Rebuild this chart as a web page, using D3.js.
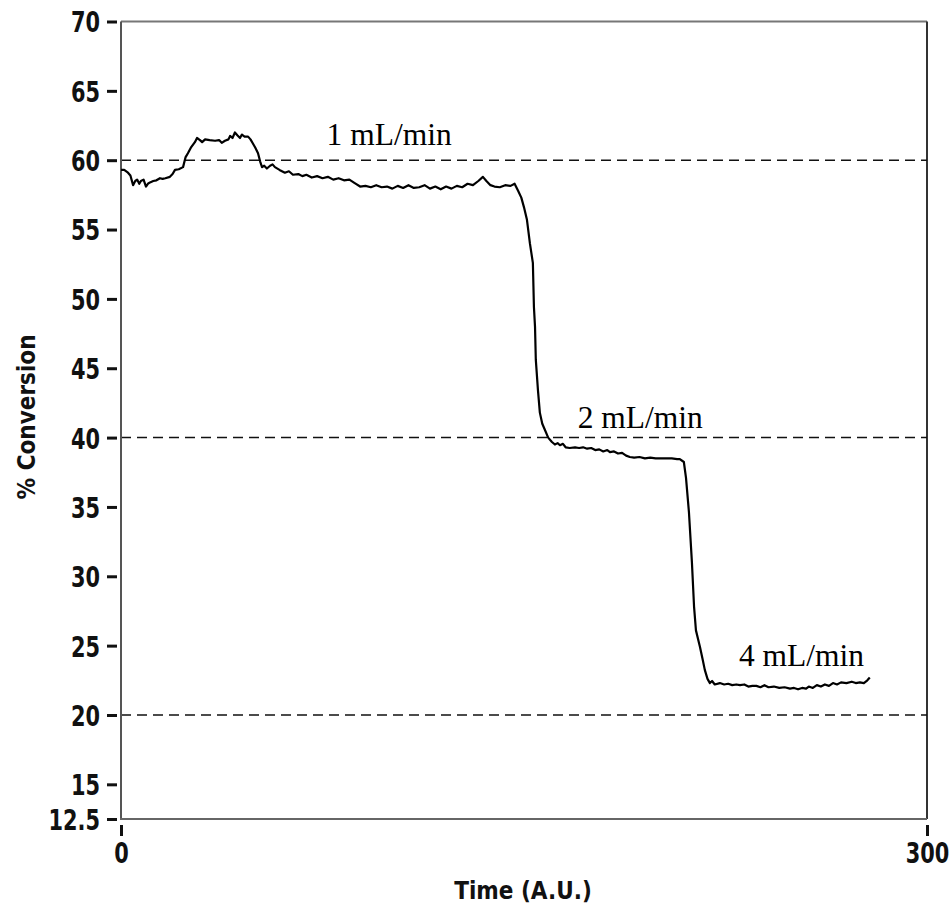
<!DOCTYPE html>
<html>
<head>
<meta charset="utf-8">
<script src="https://cdn.jsdelivr.net/npm/d3@7"></script>
<style>
  body { margin: 0; background: #fff; }
  svg { display: block; }
  .tick-label { font-family: "DejaVu Sans Condensed", "DejaVu Sans", sans-serif; font-weight: bold; }
</style>
</head>
<body>
<svg id="chart" width="950" height="911"></svg>
<script>
// ---- data ----
const timeValues = [
  0, 1.2, 2.6, 3.5, 4.5, 5.3, 6.0, 6.8, 7.4, 8.4, 9.3, 10, 10.8, 12, 13.2, 14.5, 15.5, 16.5, 18.2, 19.2,
  20.1, 21.5, 23.1, 24, 24.9, 26, 27.5, 28.3, 29.4, 30.2, 31.3, 33, 35, 36.5, 37.5, 38.7, 40, 40.6, 41.5, 42.4,
  43.3, 44.3, 45, 46, 47.3, 48.2, 49.1, 50, 51, 51.8, 52.5, 53.3, 54.3, 55.5, 56.4, 57.3,
  59, 61, 62.5, 64, 66, 67.5, 69, 71, 73, 75, 77, 79, 81, 83, 85, 87, 89, 91, 93, 95, 97, 99, 101, 103,
  105, 107, 109, 111, 113, 115, 117, 119, 121, 123, 125, 127, 129, 131, 133, 134.7, 136, 137.5, 139, 141,
  143, 145, 146.5, 147.8, 149,
  150, 151.1, 152.2, 153.3, 153.7, 154.1, 154.4, 155.2, 155.9, 156.8, 157.8, 159, 160.4, 161.5, 162.5, 163.4,
  164.5, 165.5, 167, 169, 170.5, 172, 173.5, 175, 176.5, 178, 179.5, 181, 182, 183.5, 185, 186.5, 188, 189.4,
  191, 193, 195, 197, 199, 201, 203, 205, 207, 208,
  209.5, 210.3, 211.4, 212.5, 213.3, 214, 215.5, 216.5, 217.3, 218.3, 219.2, 220, 221, 222.9, 224.5, 226, 227.5,
  229, 230.4, 232, 233.5, 235, 236.5, 238, 239.5, 241, 243, 245, 247, 249, 250.5, 252, 253.5, 255, 256, 257.5,
  259, 260.5, 262, 263.5, 265, 266.5, 268, 270, 272, 273.5, 275, 276.5, 277.8, 278.7];
const conversionValues = [
  59.3, 59.3, 59.1, 58.9, 58.2, 58.5, 58.6, 58.3, 58.5, 58.6, 58.1, 58.3, 58.4, 58.5, 58.55, 58.7, 58.65, 58.7, 58.8, 59.0,
  59.3, 59.35, 59.5, 60.2, 60.5, 60.9, 61.3, 61.6, 61.45, 61.3, 61.5, 61.45, 61.4, 61.45, 61.25, 61.4, 61.5, 61.75, 61.6, 62.0,
  61.8, 61.6, 61.85, 61.7, 61.7, 61.5, 61.2, 60.9, 60.5, 59.9, 59.5, 59.6, 59.4, 59.6, 59.7, 59.5,
  59.3, 59.1, 59.2, 58.95, 59.0, 58.85, 58.95, 58.75, 58.85, 58.7, 58.8, 58.6, 58.7, 58.55, 58.6, 58.35, 58.1, 58.15, 58.05, 58.2, 58.05, 58.1, 57.95, 58.15,
  58.0, 58.2, 58.0, 58.05, 58.2, 57.95, 58.1, 57.9, 58.1, 57.95, 58.15, 58.05, 58.3, 58.2, 58.5, 58.8, 58.5, 58.2, 58.1, 58.05,
  58.2, 58.15, 58.3, 57.8, 57.3,
  56.6, 55.7, 54.0, 52.6, 49.4, 48.0, 45.6, 43.4, 41.8, 41.0, 40.55, 40.0, 39.68, 39.5, 39.6, 39.45,
  39.55, 39.3, 39.25, 39.3, 39.25, 39.3, 39.2, 39.25, 39.1, 39.15, 39.0, 39.1, 38.95, 39.0, 38.85, 38.9, 38.7, 38.6,
  38.55, 38.6, 38.5, 38.55, 38.5, 38.5, 38.5, 38.5, 38.45, 38.45,
  38.24, 37.1, 34.6, 31.0, 27.8, 26.1, 24.9, 24.0, 23.25, 22.6, 22.3, 22.45, 22.2, 22.3, 22.2, 22.25, 22.15,
  22.2, 22.15, 22.2, 22.05, 22.1, 22.1, 22.0, 22.15, 22.0, 22.05, 21.95, 22.0, 21.9, 21.95, 21.85, 21.95, 21.9, 22.05, 21.95,
  22.15, 22.05, 22.2, 22.1, 22.3, 22.2, 22.35, 22.3, 22.4, 22.3, 22.35, 22.3, 22.5, 22.7];
const referenceLevels = [60, 40, 20];
const flowLabels = ["1 mL/min", "2 mL/min", "4 mL/min"];
const flowLabelTimes = [76.5, 170, 230];
const flowLabelValues = [61.1, 40.7, 23.5];
const yTickValues = [12.5, 15, 20, 25, 30, 35, 40, 45, 50, 55, 60, 65, 70];
const xTickValues = [0, 300];
const xTitle = "Time (A.U.)";
const yTitle = "% Conversion";

// ---- layout ----
const svg = d3.select("#chart");
const pLeft = 121, pRight = 927, pTop = 21.5, pBottom = 819;
const x = d3.scaleLinear().domain([0, 300]).range([pLeft, pRight]);
const y = d3.scaleLinear().domain([12.5, 70]).range([pBottom, pTop]);
const squeeze = 0.8;

// frame (top and right)
svg.append("line").attr("x1", pLeft).attr("x2", pRight).attr("y1", pTop).attr("y2", pTop)
  .attr("stroke", "#777").attr("stroke-width", 2);
svg.append("line").attr("x1", pRight).attr("x2", pRight).attr("y1", pTop).attr("y2", pBottom)
  .attr("stroke", "#333").attr("stroke-width", 2);

// reference dashed lines
svg.append("g").selectAll("line").data(referenceLevels).join("line")
  .attr("x1", pLeft).attr("x2", pRight)
  .attr("y1", d => y(d)).attr("y2", d => y(d))
  .attr("stroke", "#111").attr("stroke-width", 1.5)
  .attr("stroke-dasharray", "10,6");

// y axis
const yAxis = d3.axisLeft(y).tickValues(yTickValues).tickSize(10).tickPadding(7)
  .tickFormat(d => d === 12.5 ? "12.5" : d3.format("d")(d));
const gy = svg.append("g").attr("transform", `translate(${pLeft - 4},0)`).call(yAxis);
gy.select(".domain").remove();
gy.selectAll(".tick line").attr("stroke", "#111").attr("stroke-width", 3);
gy.selectAll(".tick text").attr("class", "tick-label").attr("font-size", 29).attr("fill", "#111")
  .attr("dy", "0.36em")
  .attr("x", -17 / squeeze)
  .attr("transform", `scale(${squeeze},1)`);
svg.append("line").attr("x1", pLeft).attr("x2", pLeft).attr("y1", pTop).attr("y2", pBottom + 1)
  .attr("stroke", "#555").attr("stroke-width", 2);

// x axis
const xAxis = d3.axisBottom(x).tickValues(xTickValues).tickSize(11).tickPadding(6)
  .tickFormat(d3.format("d"));
const gx = svg.append("g").attr("transform", `translate(0,${pBottom + 6})`).call(xAxis);
gx.select(".domain").remove();
gx.selectAll(".tick line").attr("stroke", "#111").attr("stroke-width", 3);
gx.selectAll(".tick text").attr("class", "tick-label").attr("font-size", 29).attr("fill", "#111")
  .attr("transform", `scale(${squeeze},1)`);
svg.append("line").attr("x1", pLeft - 1).attr("x2", pRight).attr("y1", pBottom).attr("y2", pBottom)
  .attr("stroke", "#666").attr("stroke-width", 2);

// axis titles
svg.append("text").attr("x", 523).attr("y", 899).attr("text-anchor", "middle")
  .attr("class", "tick-label").attr("font-size", 24).attr("fill", "#111").text(xTitle);
svg.append("text").attr("transform", "translate(35,417) rotate(-90)").attr("text-anchor", "middle")
  .attr("class", "tick-label").attr("font-size", 24).attr("fill", "#111").text(yTitle);

// data line
const line = d3.line().x((d, i) => x(timeValues[i])).y(d => y(d));
svg.append("path").datum(conversionValues)
  .attr("d", line).attr("fill", "none").attr("stroke", "#000").attr("stroke-width", 2.2)
  .attr("stroke-linejoin", "round");

// flow labels
svg.append("g").selectAll("text").data(flowLabels).join("text")
  .attr("x", (d, i) => x(flowLabelTimes[i]))
  .attr("y", (d, i) => y(flowLabelValues[i]))
  .attr("font-family", "'Liberation Serif', 'Times New Roman', serif")
  .attr("font-size", 31.5).attr("fill", "#000")
  .text(d => d);
</script>
</body>
</html>
